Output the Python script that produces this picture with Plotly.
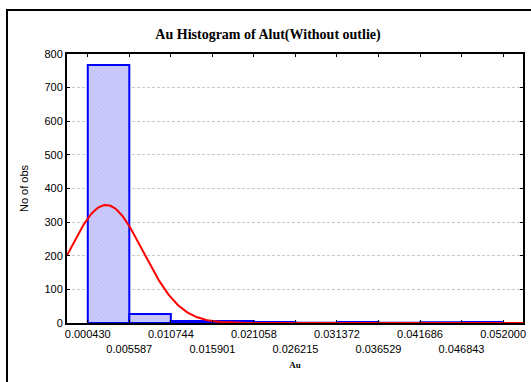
import numpy as np
import plotly.graph_objects as go

# ---- data ----
bin_edges = [0.000430, 0.005587, 0.010744, 0.015901, 0.021058, 0.026215,
             0.031372, 0.036529, 0.041686, 0.046843, 0.052000]
tick_labels = ["0.000430", "0.005587", "0.010744", "0.015901", "0.021058", "0.026215",
               "0.031372", "0.036529", "0.041686", "0.046843", "0.052000"]
counts = [767, 27, 6, 6, 3, 1, 3, 1, 2, 3]

# fitted normal curve parameters
fit_mean = 0.0027
fit_sd = 0.0046
fit_n = 785

bin_width = bin_edges[1] - bin_edges[0]
centers = [(a + b) / 2 for a, b in zip(bin_edges[:-1], bin_edges[1:])]

x_lo = bin_edges[0] - 0.5 * bin_width
x_hi = bin_edges[-1] + 0.48 * bin_width

xs = np.linspace(x_lo, x_hi, 400)
ys = fit_n * bin_width / (fit_sd * np.sqrt(2 * np.pi)) * np.exp(-0.5 * ((xs - fit_mean) / fit_sd) ** 2)

fig = go.Figure()
fig.add_trace(go.Bar(
    x=centers, y=counts, width=[bin_width] * len(counts),
    marker=dict(color="#C6C6FA",
                line=dict(color="#0000FF", width=2),
                pattern=dict(shape="x", fgcolor="#A8A8F0", bgcolor="#CACAFB", size=3, solidity=0.25)),
    hoverinfo="skip", showlegend=False,
))
fig.add_trace(go.Scatter(
    x=xs, y=ys, mode="lines", line=dict(color="#FF0000", width=2),
    hoverinfo="skip", showlegend=False, cliponaxis=True,
))

ticktext = [t if i % 2 == 0 else "<br>" + t for i, t in enumerate(tick_labels)]

fig.update_layout(
    width=531, height=382,
    margin=dict(l=67, r=8, t=54, b=59, autoexpand=False),
    paper_bgcolor="white", plot_bgcolor="white",
    bargap=0,
    font=dict(family="Arial, Liberation Sans, sans-serif", size=11, color="black"),
    title=dict(text="<b>Au Histogram of Alut(Without outlie)</b>",
               font=dict(family="Liberation Serif, Times New Roman, serif", size=14, color="black"),
               x=(268 - 67) / 456, xref="paper", xanchor="center",
               y=1 - 34 / 382, yref="container", yanchor="middle"),
    xaxis=dict(range=[x_lo, x_hi], tickvals=bin_edges, ticktext=ticktext,
               tickangle=0, automargin=False,
               showgrid=False, zeroline=False,
               showline=True, linecolor="black", linewidth=2, mirror="ticks",
               ticks="inside", ticklen=3, tickcolor="black", tickwidth=1,
               tickfont=dict(size=11),
               title=dict(text="<b>Au</b>", standoff=8,
                          font=dict(family="Liberation Serif, Times New Roman, serif", size=9))),
    yaxis=dict(range=[0, 800], dtick=100, tick0=0, automargin=False,
               showgrid=True, gridcolor="#C8C8C8", gridwidth=1, griddash="3px,2px",
               zeroline=False,
               showline=True, linecolor="black", linewidth=2, mirror="ticks",
               ticks="inside", ticklen=3, tickcolor="black", tickwidth=1,
               tickfont=dict(size=11),
               title=dict(text="No of obs", standoff=14, font=dict(size=11))),
    shapes=[dict(type="rect", xref="paper", yref="paper",
                 x0=(7 - 67) / 456, x1=1.2, y0=-0.5, y1=(323 - 10) / 269,
                 line=dict(color="black", width=2), fillcolor="rgba(0,0,0,0)", layer="below")],
)

fig.write_html("out.html",
               config={"displayModeBar": False, "staticPlot": True},
               post_script="document.body.style.margin='0';document.body.style.padding='0';"
                           "document.body.style.overflow='hidden';")
